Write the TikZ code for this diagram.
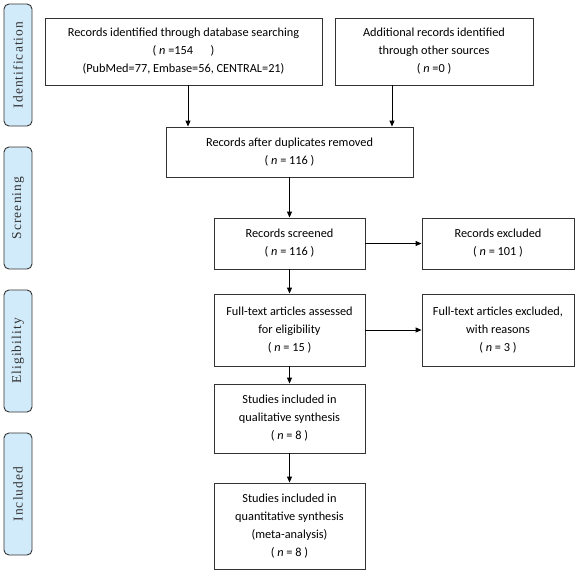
\documentclass[tikz,border=0pt]{standalone}
\usepackage{fontspec}
\setmainfont{Carlito}
\newfontfamily\sidefont[LetterSpace=8]{Liberation Serif}
\usetikzlibrary{arrows.meta}
\definecolor{sideblue}{HTML}{D2EBFB}
\definecolor{edgegray}{HTML}{333333}
\tikzset{
  box/.style={draw=edgegray, line width=0.9pt, align=center, inner sep=0pt,
    font=\fontsize{12.3}{18}\selectfont},
  side/.style={draw=edgegray, fill=sideblue, line width=0.9pt, rounded corners=5pt,
    minimum width=122pt, minimum height=28pt, rotate=90, inner sep=0pt,
    text=black!80, font=\sidefont\fontsize{13.5}{15}\selectfont},
  arr/.style={line width=0.9pt, -{Triangle[length=6pt,width=5pt]}}
}
\begin{document}
\begin{tikzpicture}[x=1pt,y=-1pt]
\useasboundingbox (0,0) rectangle (577,573);
% side labels
\node[side] (idL) at (18,65) {Identification};
\node[side] (scL) at (18,208) {Screening};
\node[side] (elL) at (18,351) {Eligibility};
\node[side] (inL) at (18,494) {Included};
% boxes
\node[box, minimum width=277pt, minimum height=67pt] (b1) at (183.5,51.5)
  {Records identified through database searching\\( \textit{n} =154\hspace{1.2em} )\\(PubMed=77, Embase=56, CENTRAL=21)};
\node[box, minimum width=198pt, minimum height=67pt] (b2) at (434,51.5)
  {Additional records identified\\through other sources\\( \textit{n} =0 )};
\node[box, minimum width=247pt, minimum height=50pt] (b3) at (289.5,152)
  {Records after duplicates removed\\( \textit{n} = 116 )};
\node[box, minimum width=151pt, minimum height=51pt] (b4) at (289.5,243.5)
  {Records screened\\( \textit{n} = 116 )};
\node[box, minimum width=152pt, minimum height=51pt] (ex1) at (498,243.5)
  {Records excluded\\( \textit{n} = 101 )};
\node[box, minimum width=151pt, minimum height=72pt] (b5) at (289.5,330)
  {Full-text articles assessed\\for eligibility\\( \textit{n} = 15 )};
\node[box, minimum width=152pt, minimum height=72pt] (ex2) at (498,330)
  {Full-text articles excluded,\\with reasons\\( \textit{n} = 3 )};
\node[box, minimum width=151pt, minimum height=69pt] (b6) at (289.5,418.5)
  {Studies included in\\qualitative synthesis\\( \textit{n} = 8 )};
\node[box, minimum width=151pt, minimum height=86pt] (b7) at (289.5,526)
  {Studies included in\\quantitative synthesis\\(meta-analysis)\\( \textit{n} = 8 )};
% connectors
\draw[arr] (b1.south -| 188,0) -- (b3.north -| 188,0);
\draw[arr] (b2.south -| 392,0) -- (b3.north -| 392,0);
\draw[arr] (b3) -- (b4);
\draw[arr] (b4) -- (ex1);
\draw[arr] (b4) -- (b5);
\draw[arr] (b5) -- (ex2);
\draw[arr] (b5) -- (b6);
\draw[arr] (b6) -- (b7);
\end{tikzpicture}
\end{document}
